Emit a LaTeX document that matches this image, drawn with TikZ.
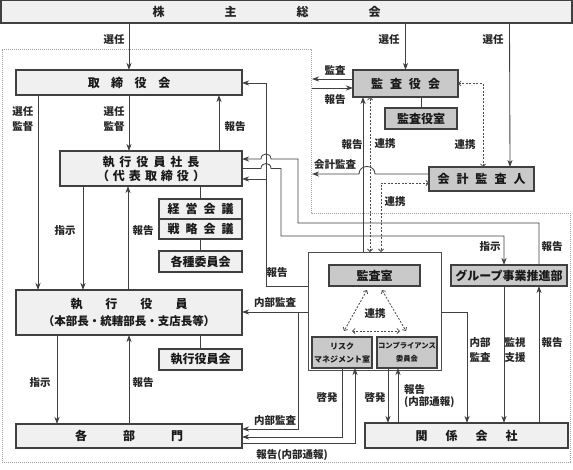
\documentclass[tikz,border=0pt]{standalone}
\usepackage{fontspec}
\setmainfont{Noto Sans CJK JP}
\usetikzlibrary{arrows.meta}
\newcommand\sk[1]{\hspace{#1pt}}
\begin{document}
\begin{tikzpicture}[x=1pt,y=-1pt,
  box/.style={draw=black!75, line width=1.1pt, inner sep=0pt, outer sep=0pt, text=black!90, font=\bfseries\fontsize{12}{14}\selectfont, align=center},
  lbox/.style={box, fill=gray!12},
  dbox/.style={box, fill=gray!42},
  wbox/.style={draw=black!70, line width=0.9pt, fill=white, inner sep=0pt, outer sep=0pt},
  conn/.style={draw=black!75, line width=0.85pt},
  arr/.style={conn, -{Stealth[length=7pt,width=5pt,inset=2pt]}},
  dconn/.style={draw=black!70, line width=0.8pt, dash pattern=on 2pt off 1.5pt},
  darr/.style={dconn, {Straight Barb[length=2.5pt,width=5pt]}-{Straight Barb[length=2.5pt,width=5pt]}},
  lbl/.style={font=\bfseries\fontsize{10.5}{15}\selectfont, text=black!85, inner sep=0pt, align=center},
  bnd/.style={draw=gray!75, line width=0.8pt, dash pattern=on 1pt off 1pt}
]
\useasboundingbox (0,0) rectangle (573,469);
\fill[white] (0,0) rectangle (573,469);

% company boundary
\draw[bnd] (2,49) -- (311,49) -- (311,213) -- (570,213) -- (570,462) -- (2,462) -- cycle;

% boxes
\node[lbox, minimum width=571pt, minimum height=23pt] (kabu) at (286.5,11.5) {};
\node[lbl, font=\bfseries\fontsize{12}{14}\selectfont] (kabutext) at (266.5,12) {株\sk{60}主\sk{60}総\sk{60}会};
\node[lbox, minimum width=226pt, minimum height=25pt] (tori) at (129,82.5) {取\sk{11.5}締\sk{11.5}役\sk{11.5}会};
\node[lbox, minimum width=182pt, minimum height=35pt] (shacho) at (151,168.5) {執\sk{5}行\sk{5}役\sk{5}員\sk{5}社\sk{5}長\\（\sk{4}代\sk{4}表\sk{4}取\sk{4}締\sk{4}役\sk{4}）};
\node[lbox, minimum width=83pt, minimum height=20pt] (keiei) at (200.5,209) {経\sk{6}営\sk{6}会\sk{6}議};
\node[lbox, minimum width=83pt, minimum height=20pt] (senryaku) at (200.5,229) {戦\sk{6}略\sk{6}会\sk{6}議};
\node[lbox, minimum width=83pt, minimum height=21pt] (kakushu) at (200.5,261.5) {各種委員会};
\node[lbox, minimum width=226pt, minimum height=45pt, font=\bfseries\fontsize{12}{17}\selectfont] (shikko) at (129,312.5) {執\sk{23}行\sk{23}役\sk{23}員\\{\fontsize{11.5}{17}\selectfont （本部長・統轄部長・支店長等）}};
\node[lbox, minimum width=83pt, minimum height=21pt] (shikkokai) at (200.5,359.5) {執行役員会};
\node[lbox, minimum width=226pt, minimum height=24pt] (kakubu) at (129,436) {各\sk{36}部\sk{36}門};

\node[dbox, minimum width=105pt, minimum height=27pt] (kansayaku) at (405.5,83.5) {監\sk{7}査\sk{7}役\sk{7}会};
\node[dbox, minimum width=72pt, minimum height=21pt] (yakushitsu) at (421,118.5) {監査役室};
\node[dbox, minimum width=105pt, minimum height=24pt] (kaikei) at (481.5,179) {会\sk{7}計\sk{7}監\sk{7}査\sk{7}人};

\node[wbox, minimum width=133pt, minimum height=118pt] (outer) at (374.5,311) {};
\node[dbox, minimum width=91pt, minimum height=21pt] (kansa) at (374.5,275.5) {監査室};
\node[dbox, minimum width=60pt, minimum height=31pt, font=\bfseries\fontsize{8}{13}\selectfont] (risk) at (342,352.5) {リスク\\マネジメント室};
\node[dbox, minimum width=60pt, minimum height=31pt, font=\bfseries\fontsize{7.3}{13}\selectfont] (comp) at (407,352.5) {コンプライアンス\\委員会};
\node[dbox, minimum width=116pt, minimum height=21pt] (group) at (509,275.5) {グループ事業推進部};
\node[lbox, minimum width=203pt, minimum height=25pt] (kankei) at (466.5,435.5) {関\sk{18}係\sk{18}会\sk{18}社};

% waypoints
\coordinate (kL1) at (312,79);
\coordinate (kL2) at (312,88);
\coordinate (kL3) at (312,174);

% shareholders
\draw[arr] (kabu.south -| tori.north) -- (tori.north);
\node[lbl] (l1) at (114,40) {選任};
\draw[arr] (kabu.south -| kansayaku.north) -- (kansayaku.north);
\node[lbl] (l2) at (389,40) {選任};
\draw[arr] ([xshift=-0.5pt]kabu.south -| kaikei.north) ++(28.5,0) -- ([xshift=28.5pt]kaikei.north);
\node[lbl] (l3) at (493,40) {選任};

% board
\draw[arr] ([xshift=-91pt]tori.south) -- ([xshift=-91pt]shikko.north);
\node[lbl] (l4) at (23,119.5) {選任\\監督};
\draw[arr] (tori.south) -- (shacho.north -| tori.south);
\node[lbl] (l5) at (114,119.5) {選任\\監督};
\draw[arr] ([xshift=68pt]shacho.north) -- ([xshift=90pt]tori.south);
\node[lbl] (l6) at (235,127) {報告};

% president
\draw[arr] ([xshift=-68pt]shacho.south) -- ([xshift=-46pt]shikko.north);
\node[lbl] (l7) at (65,231) {指示};
\draw[arr] ([xshift=-1pt]shikko.north) -- ([xshift=-23pt]shacho.south);
\node[lbl] (l8) at (143,231) {報告};
\draw[conn] (shacho.south -| keiei.north) -- (keiei.north);
\draw[conn] (senryaku.south) -- (kakushu.north);

% executive officers
\draw[arr] ([xshift=-72pt]shikko.south) -- ([xshift=-72pt]kakubu.north);
\node[lbl] (l9) at (40,383) {指示};
\draw[arr] (kakubu.north) -- (shikko.south);
\node[lbl] (l10) at (143,383) {報告};
\draw[conn] (shikko.south -| shikkokai.north) -- (shikkokai.north);

% audit & supervisory board
\draw[arr] ([yshift=4.5pt]kansayaku.west) -- (kL1);
\node[lbl] (l11) at (335,70) {監査};
\draw[arr] (kL2) -- ([yshift=-4.5pt]kansayaku.west);
\node[lbl] (l12) at (335,100) {報告};
\draw[conn] (kansayaku.south -| yakushitsu.north) -- (yakushitsu.north);
\draw[darr] (kansayaku.east) -- (483,83.5) -- ([xshift=1.5pt]kaikei.north);
\node[lbl] (l13) at (465,145) {連携};

% accounting auditor
\draw[arr] ([yshift=5pt]kaikei.west) -- (375,174) .. controls (375,164) and (359,164) .. (359,174) -- (kL3);
\node[lbl] (l14) at (335,165) {会計監査};
\draw[darr] ([yshift=-4pt]kaikei.west) -- (381,183) -- ([xshift=6.5pt]outer.north);
\node[lbl] (l15) at (395,202) {連携};

% internal audit office to audit board
\draw[arr] ([xshift=-11.5pt]outer.north) -- ([xshift=-42.5pt]kansayaku.south);
\draw[darr] ([xshift=-4.5pt]outer.north) -- ([xshift=-35.5pt]kansayaku.south);
\node[lbl] (l16) at (352,145) {報告};
\node[lbl] (l17) at (385,144) {連携};

% report to board & president
\draw[arr] ([yshift=25pt]outer.west) -- (266,286) -- (266,83) -- ([yshift=-0.5pt]tori.east);
\draw[arr] (266,179) -- ([yshift=-10.5pt]shacho.east);
\node[lbl] (l18) at (277,273) {報告};

% president to group business promotion
\draw[arr] (shacho.east) -- (261,168.5) .. controls (261,161.8) and (271,161.8) .. (271,168.5) -- (281,168.5) -- (281,236) -- (504,236) -- ([xshift=-5pt]group.north);
\node[lbl] (l19) at (490,247) {指示};
\draw[arr] ([xshift=30pt]group.north) -- (539,223) -- (298,223) -- (298,159) -- (271,159) .. controls (271,152.3) and (261,152.3) .. (261,159) -- ([yshift=9.5pt]shacho.east);
\node[lbl] (l20) at (552,247) {報告};

% internal audit to executives and divisions
\draw[arr] ([yshift=-1pt]outer.west) -- ([yshift=0.5pt]shikko.east);
\draw[arr] (298,312) -- (298,429) -- ([yshift=7pt]kakubu.east);
\node[lbl] (l21) at (275,303) {内部監査};
\node[lbl] (l22) at (275,421) {内部監査};

% risk management
\draw[arr] (risk.south) -- (342,437) -- ([yshift=-1pt]kakubu.east);
\node[lbl] (l23) at (327,398) {啓発};
\draw[arr] ([yshift=-7pt]kakubu.east) -- (355,443) -- ([xshift=13pt]risk.south);
\node[lbl] (l24) at (292,455) {報告(内部通報)};

% triangle cooperation
\draw[darr] (367,290) -- (344,331);
\draw[darr] (382,290) -- (406,331);
\draw[darr] (352,331) -- (400,331);
\node[lbl] (l25) at (375,314) {連携};

% compliance committee
\draw[arr] ([xshift=-19pt]comp.south) -- ([xshift=-78.5pt]kankei.north);
\node[lbl] (l26) at (375,398) {啓発};
\draw[arr] ([xshift=-68.5pt]kankei.north) -- ([xshift=-9pt]comp.south);
\node[lbl, anchor=west, align=left, font=\bfseries\fontsize{10.5}{12}\selectfont] (l27) at (404,396) {報告\\(内部通報)};

% related companies
\draw[arr] ([yshift=-1pt]outer.east) -- (467,312) -- ([xshift=0.5pt]kankei.north);
\node[lbl] (l28) at (480,350) {内部\\監査};
\draw[arr] ([xshift=-5pt]group.south) -- ([xshift=37.5pt]kankei.north);
\node[lbl] (l29) at (515,350) {監視\\支援};
\draw[arr] ([xshift=72.5pt]kankei.north) -- ([xshift=30pt]group.south);
\node[lbl] (l30) at (552,343) {報告};
\end{tikzpicture}
\end{document}
